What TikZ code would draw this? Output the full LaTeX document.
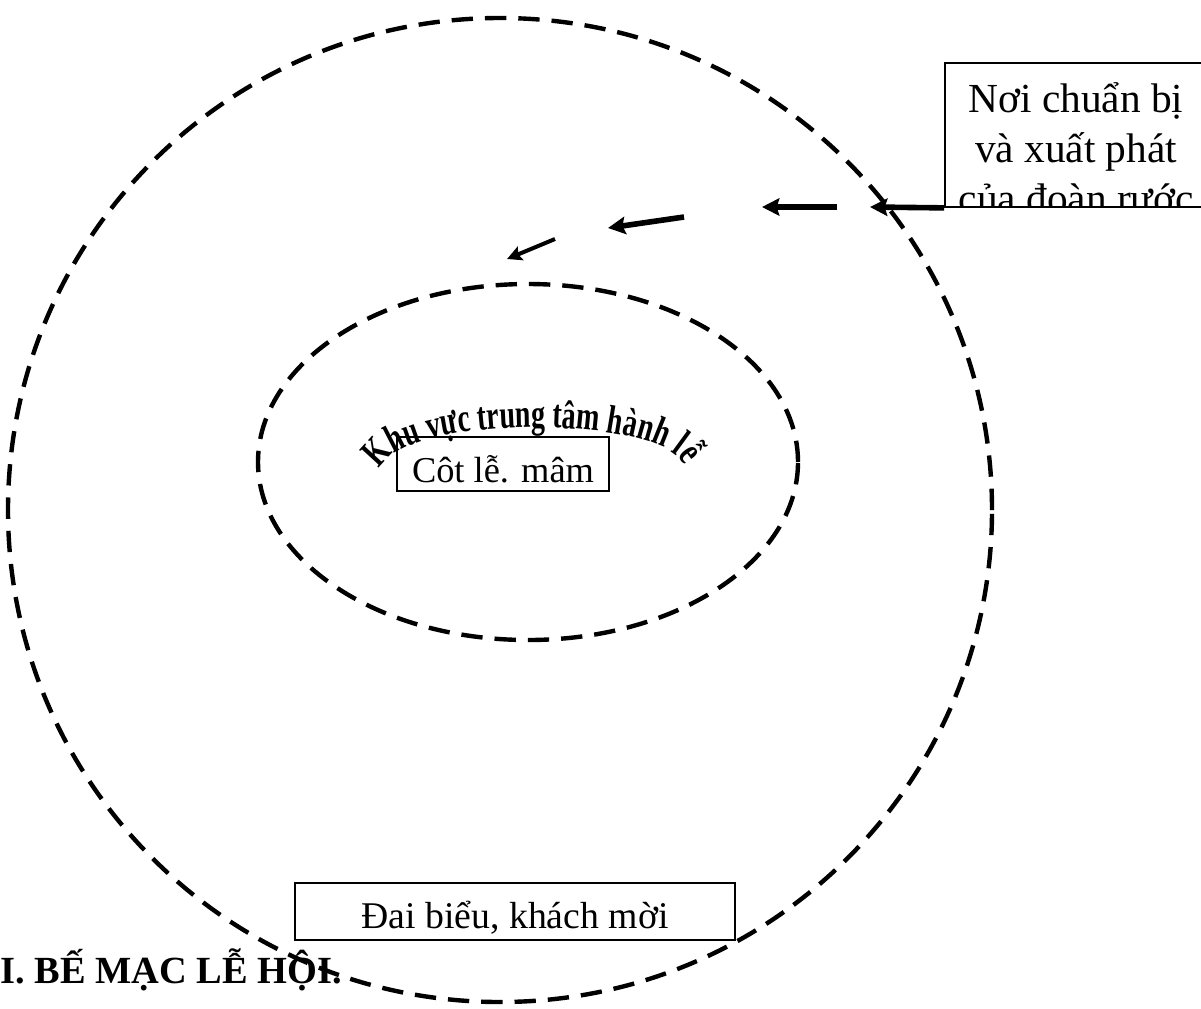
\documentclass[tikz,border=0pt]{standalone}
\usepackage{fontspec}
\setmainfont{Liberation Serif}
\newfontfamily\arcfont[FakeStretch=0.7]{Liberation Serif}
\usetikzlibrary{shapes, arrows.meta, positioning, decorations.text}

\begin{document}
\begin{tikzpicture}[
      x=0.75pt, y=-0.75pt,
      font=\fontsize{28}{35}\selectfont,
      zone/.style={draw, line width=3.3pt, dash pattern=on 16pt off 9pt},
      box/.style={rectangle, draw, line width=1.3pt, inner sep=0pt, text centered},
      arrow/.style={line width=4.2pt, -{Stealth[length=13pt, width=13pt, inset=2pt]}},
      thinarrow/.style={line width=3pt, -{Stealth[length=11pt, width=11pt, inset=2pt]}}
    ]
      \useasboundingbox (0,0) rectangle (1201,1008);
      \clip (0,0) rectangle (1201,1008);

      % heading under the plan
      \node (heading) [anchor=base west, inner sep=0pt, font=\fontsize{28.8}{34}\selectfont\bfseries] at (0,983) {I. BẾ MẠC LỄ HỘI.};

      % the two areas
      \node (outer) [zone, circle, minimum size=738pt] at (500,510) {};
      \node (inner) [zone, ellipse, minimum width=405pt, minimum height=267pt] at (528,462) {};

      % boxes
      \node (prep) [box, minimum width=196.5pt, minimum height=108pt] at (1076,135) {};
      \begin{scope}
        \clip (prep.south west) rectangle (prep.north east);
        \node (preptext) [align=center, anchor=north, inner sep=0pt,
          font=\fontsize{31}{37.5}\selectfont] at (1076,82) {Nơi chuẩn bị\\và xuất phát\\của đoàn rước};
      \end{scope}
      \node (altar) [box, minimum width=159pt, minimum height=40.5pt, text height=27pt, text depth=0pt,
        font=\fontsize{27.3}{33}\selectfont] at (503,464) {Côt lễ. mâm};
      \node (guests) [box, minimum width=330pt, minimum height=42.75pt, text height=26pt, text depth=1pt,
        font=\fontsize{28.3}{34}\selectfont] at (515,911.5) {Đai biểu, khách mời};

      % curved title of the centre
      \path [decorate, decoration={text along path, text align=center,
          text={|\fontsize{30}{34}\arcfont\bfseries|Khu v^^^^1ef1c trung t^^^^00e2m h^^^^00e0nh l^^^^1ec5}}]
        (380,470) .. controls (396,414) and (666,414) .. (684,466);

      % route of the procession
      \coordinate (a1) at (870,207);
      \coordinate (a2s) at (837,207);
      \coordinate (a2e) at (762,207);
      \coordinate (a3s) at (684,217);
      \coordinate (a3e) at (608,228);
      \coordinate (a4s) at (555,239);
      \coordinate (a4e) at (507,259);

      \draw [arrow] (prep.south west) -- (a1);
      \draw [arrow] (a2s) -- (a2e);
      \draw [arrow] (a3s) -- (a3e);
      \draw [thinarrow] (a4s) -- (a4e);
    \end{tikzpicture}
\end{document}
